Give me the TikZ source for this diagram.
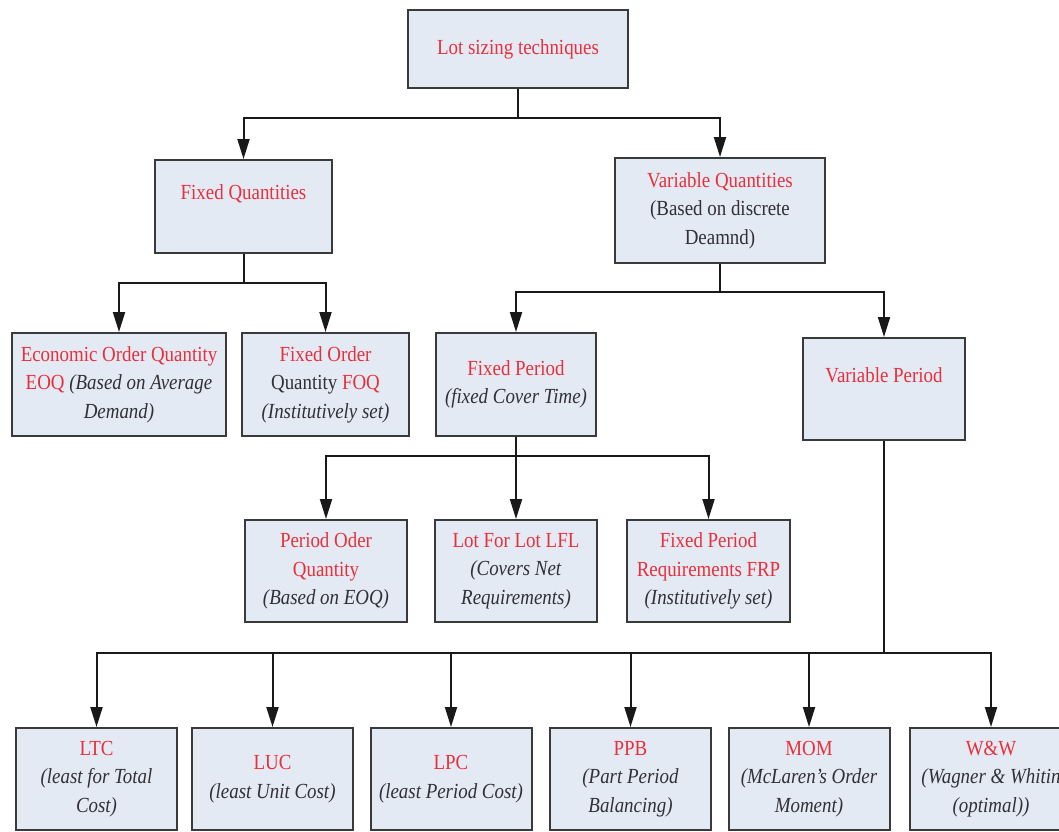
\documentclass[tikz,border=0pt]{standalone}
\usepackage{fontspec}
\setmainfont{Liberation Serif}[FakeStretch=0.88]
\usetikzlibrary{arrows.meta}
\definecolor{boxfill}{RGB}{228,234,244}
\definecolor{boxline}{RGB}{58,58,58}
\definecolor{tred}{RGB}{232,48,60}
\definecolor{tgray}{RGB}{48,48,54}
\newcommand\redtxt[1]{\textcolor{tred}{#1}}
\begin{document}
\begin{tikzpicture}[x=1pt,y=-1pt,
  box/.style={draw=boxline, line width=2pt, fill=boxfill, inner sep=0pt, align=center,
    font=\fontsize{21.5}{28.5}\selectfont, text=tgray},
  conn/.style={draw=black!90, line width=2pt},
  arr/.style={conn, -{Triangle[length=20pt,width=12pt]}}
]
\useasboundingbox (0,0) rectangle (1059,831);
\clip (0,0) rectangle (1059,831);
% level 0
\node[box, minimum width=220pt, minimum height=78pt] (top) at (518,49) {\redtxt{Lot sizing techniques}};
% level 1
\node[box, minimum width=177pt, minimum height=93pt] (fq) at (243.5,206.5) {\redtxt{Fixed Quantities}\\\mbox{}};
\node[box, minimum width=210pt, minimum height=105pt] (vq) at (720,210.5) {\redtxt{Variable Quantities}\\(Based on discrete\\Deamnd)};
% level 2
\node[box, minimum width=214pt, minimum height=103pt] (eoq) at (119,384.5) {\redtxt{Economic Order Quantity}\\\redtxt{EOQ} \textit{(Based on Average}\\\textit{Demand)}};
\node[box, minimum width=167pt, minimum height=103pt] (foq) at (325.5,384.5) {\redtxt{Fixed Order}\\Quantity \redtxt{FOQ}\\\textit{(Institutively set)}};
\node[box, minimum width=160pt, minimum height=103pt] (fp) at (516,384.5) {\redtxt{Fixed Period}\\\textit{(fixed Cover Time)}};
\node[box, minimum width=162pt, minimum height=102pt] (vp) at (884,389) {\redtxt{Variable Period}\\\mbox{}};
% level 3
\node[box, minimum width=162pt, minimum height=102pt] (poq) at (326,571) {\redtxt{Period Oder}\\\redtxt{Quantity}\\\textit{(Based on EOQ)}};
\node[box, minimum width=162pt, minimum height=102pt] (lfl) at (516,571) {\redtxt{Lot For Lot LFL}\\\textit{(Covers Net}\\\textit{Requirements)}};
\node[box, minimum width=163pt, minimum height=102pt] (frp) at (708.5,571) {\redtxt{Fixed Period}\\\redtxt{Requirements FRP}\\\textit{(Institutively set)}};
% level 4
\node[box, minimum width=161pt, minimum height=102pt] (ltc) at (96.5,779) {\redtxt{LTC}\\\textit{(least for Total}\\\textit{Cost)}};
\node[box, minimum width=161pt, minimum height=102pt] (luc) at (272.5,779) {\redtxt{LUC}\\\textit{(least Unit Cost)}};
\node[box, minimum width=161pt, minimum height=102pt] (lpc) at (451,779) {\redtxt{LPC}\\\textit{(least Period Cost)}};
\node[box, minimum width=161pt, minimum height=102pt] (ppb) at (630.5,779) {\redtxt{PPB}\\\textit{(Part Period}\\\textit{Balancing)}};
\node[box, minimum width=161pt, minimum height=102pt] (mom) at (809,779) {\redtxt{MOM}\\\textit{(McLaren's Order}\\\textit{Moment)}};
\node[box, minimum width=162pt, minimum height=102pt] (ww) at (991,779) {\redtxt{W\&W}\\\textit{(Wagner \& Whitin}\\\textit{(optimal))}};
% connectors
\coordinate (j0) at (518,118);
\draw[conn] (top.south) -- (j0);
\draw[arr] (j0) -| (fq.north);
\draw[arr] (j0) -| (vq.north);
\coordinate (j1) at (243.5,283);
\draw[conn] (fq.south) -- (j1);
\draw[arr] (j1) -| (eoq.north);
\draw[arr] (j1) -| (foq.north);
\coordinate (j2) at (720,292);
\draw[conn] (vq.south) -- (j2);
\draw[arr] (j2) -| (fp.north);
\draw[arr] (j2) -| (vp.north);
\coordinate (j3) at (516,456);
\draw[conn] (fp.south) -- (j3);
\draw[arr] (j3) -| (poq.north);
\draw[arr] (j3) -- (lfl.north);
\draw[arr] (j3) -| (frp.north);
\coordinate (j4) at (884,653);
\draw[conn] (vp.south) -- (j4);
\draw[arr] (j4) -| (ltc.north);
\draw[arr] (j4) -| (luc.north);
\draw[arr] (j4) -| (lpc.north);
\draw[arr] (j4) -| (ppb.north);
\draw[arr] (j4) -| (mom.north);
\draw[arr] (j4) -| (ww.north);
\end{tikzpicture}
\end{document}
